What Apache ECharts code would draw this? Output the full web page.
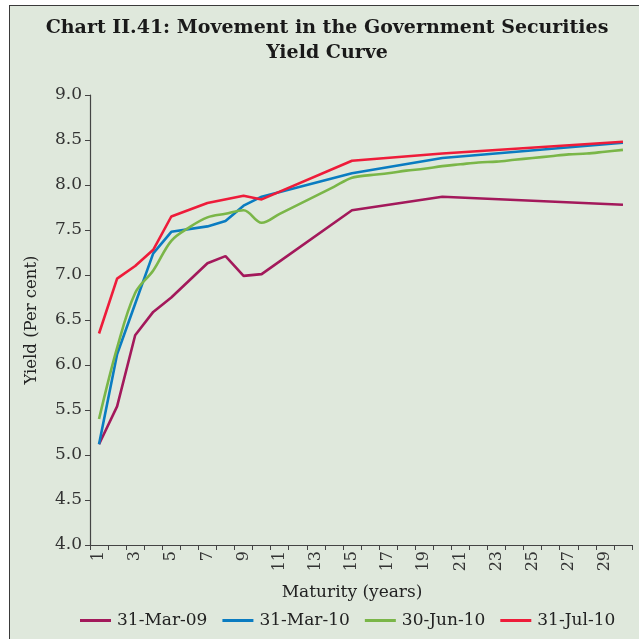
<!DOCTYPE html>
<html>
<head>
<meta charset="utf-8">
<script src="https://cdn.jsdelivr.net/npm/echarts@6/dist/echarts.min.js"></script>
<style>
html,body{margin:0;padding:0;background:#ffffff;}
#frame{position:absolute;left:9px;top:5px;width:640px;height:640px;background:#dfe8dc;border:1.5px solid #3a3a3a;box-sizing:border-box;}
#chart{position:absolute;left:0;top:0;width:639px;height:639px;}
</style>
</head>
<body>
<div id="frame"></div>
<div id="chart"></div>
<script>
// Maturity categories (years)
var maturities = ["1","2","3","4","5","6","7","8","9","10","11","12","13","14","15","16","17","18","19","20","21","22","23","24","25","26","27","28","29","30"];
var seriesNames = ["31-Mar-09", "31-Mar-10", "30-Jun-10", "31-Jul-10"];
// yields (per cent); null = no observation at that maturity
var mar09 = [5.12, 5.54, 6.33, 6.59, 6.75, null, 7.13, 7.21, 6.99, 7.01, null, null, null, null, 7.72, null, null, null, null, 7.87, null, null, null, null, null, null, null, null, null, 7.78];
var mar10 = [5.12, 6.12, 6.68, 7.24, 7.48, null, 7.54, 7.60, 7.77, 7.87, null, null, null, null, 8.13, null, null, null, null, 8.30, null, null, null, null, null, null, null, null, null, 8.47];
var jun10 = [5.40, 6.19, 6.80, 7.05, 7.38, 7.53, 7.64, 7.68, 7.72, 7.58, 7.68, 7.78, 7.88, 7.98, 8.08, 8.11, 8.13, 8.16, 8.18, 8.21, 8.23, 8.25, 8.26, 8.28, 8.30, 8.32, 8.34, 8.35, 8.37, 8.39];
var jul10 = [6.35, 6.96, 7.10, 7.28, 7.65, null, 7.80, null, 7.88, 7.84, null, null, null, null, 8.27, null, null, null, null, 8.35, null, null, null, null, null, null, null, null, null, 8.48];
var colors = ["#a3195b", "#0a7cc1", "#7ab648", "#ee1c3a"];

var font = "'DejaVu Serif', 'Liberation Serif', serif";
var chart = echarts.init(document.getElementById('chart'), null, {renderer:'canvas'});
function line(name, data, color, smooth){
  return {name:name, type:'line', data:data, connectNulls:true, showSymbol:false, symbol:'none',
    smooth: smooth, lineStyle:{color:color, width:2.6}, itemStyle:{color:color}};
}
chart.setOption({
  backgroundColor:'transparent',
  animation:false,
  textStyle:{fontFamily:font},
  title:{
    text:'Chart II.41: Movement in the Government Securities\nYield Curve',
    left:322, top:11, textAlign:'center',
    textStyle:{fontFamily:font, fontWeight:'bold', fontSize:19, color:'#1a1a1a', lineHeight:25}
  },
  legend:{
    bottom:5, left:75, itemWidth:31, itemHeight:3, itemGap:15,
    icon:'rect',
    textStyle:{fontFamily:font, fontSize:17, color:'#222', padding:[0,0,0,1]},
    data:seriesNames
  },
  grid:{left:90, right:7, top:95, bottom:94, containLabel:false},
  xAxis:{
    type:'category', data:maturities, boundaryGap:true,
    name:'Maturity (years)', nameLocation:'middle', nameGap:39,
    nameTextStyle:{fontFamily:font, fontSize:17, color:'#222', padding:[0,18,0,0]},
    axisLine:{lineStyle:{color:'#444', width:1.2}},
    axisTick:{show:true, interval:0, length:5, lineStyle:{color:'#444'}},
    axisLabel:{interval:1, rotate:90, fontFamily:font, fontSize:16, color:'#333', margin:6}
  },
  yAxis:{
    type:'value', min:4, max:9, interval:0.5,
    name:'Yield (Per cent)', nameLocation:'middle', nameGap:50,
    nameTextStyle:{fontFamily:font, fontSize:16.5, color:'#222'},
    axisLine:{show:true, lineStyle:{color:'#444', width:1.2}},
    axisTick:{show:true, length:5, lineStyle:{color:'#444'}},
    splitLine:{show:false},
    axisLabel:{fontFamily:font, fontSize:17, color:'#333', margin:8,
      formatter:function(v){return v.toFixed(1);}}
  },
  series:[
    line(seriesNames[0], mar09, colors[0], false),
    line(seriesNames[1], mar10, colors[1], false),
    line(seriesNames[2], jun10, colors[2], 0.35),
    line(seriesNames[3], jul10, colors[3], false)
  ]
});
</script>
</body>
</html>
